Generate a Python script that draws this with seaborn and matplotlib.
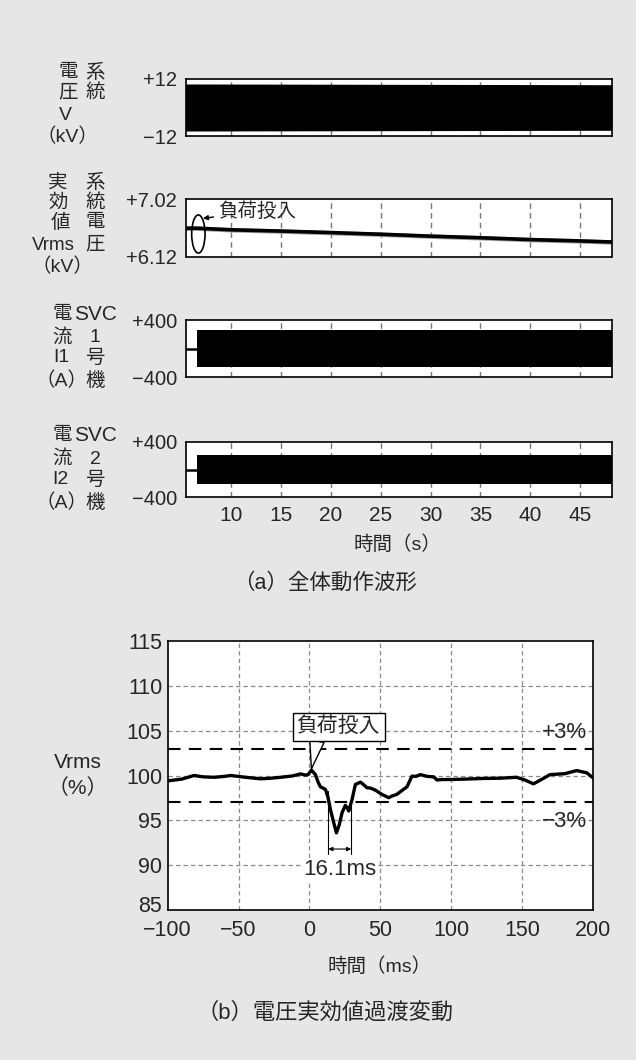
import numpy as np
import pandas as pd
import matplotlib
matplotlib.use("Agg")
import matplotlib.pyplot as plt
import matplotlib.transforms as mtransforms
import seaborn as sns
from matplotlib.patches import Ellipse

# ---------------- data ----------------
top_xticks = [10, 15, 20, 25, 30, 35, 40, 45]
top_xlim = (5.4, 48.2)
switch_t = 6.6

# (1) system voltage envelope (kV peak)
v_sys_t = [5.4, 6.6, 48.2]
v_sys_amp = [9.9, 9.9, 9.6]

# (2) system voltage rms (kV)
vrms_t = [5.4, 6.6, 10, 15, 20, 25, 30, 35, 40, 45, 48.2]
vrms_kv = [6.565, 6.565, 6.54, 6.52, 6.496, 6.47, 6.44, 6.415, 6.386, 6.365, 6.348]
vrms_noise = 0.035

# (3) SVC No.1 current envelope (A)
i1_t = [6.6, 48.2]
i1_amp = [256, 256]
# (4) SVC No.2 current envelope (A)
i2_t = [6.6, 48.2]
i2_amp = [204, 204]
pre_t = [5.4, 6.6]
pre_i = [0, 0]

# (b) Vrms transient (%)
b_ms = [-100, -90, -81.5, -75, -67.4, -60, -55.6, -45, -34.5, -27, -20.4, -12, -6.3, -3, -1,
        1.4, 4.2, 6, 7.7, 9.5, 11.3, 13, 14.8, 17, 19, 21, 23, 25.3, 26.5, 27.7, 30, 32.4,
        36, 38, 40.6, 43, 46.5, 51, 55.9, 58, 61.7, 65, 68.8, 72.3, 75, 78.2, 83, 87.6, 90,
        93.4, 99.3, 110, 123, 135, 146, 152, 158, 163, 169.7, 180, 188.5, 195.6, 200]
b_pct = [99.4, 99.6, 100.0, 99.85, 99.8, 99.9, 100.0, 99.8, 99.63, 99.7, 99.8, 99.95, 100.18, 100.05, 100.1,
         100.6, 100.1, 99.3, 98.74, 98.6, 98.44, 97.6, 96.2, 94.8, 93.6, 94.5, 95.85, 96.67, 96.4, 96.04, 97.3, 99.0,
         99.26, 99.0, 98.63, 98.6, 98.37, 97.9, 97.52, 97.7, 97.9, 98.3, 98.74, 99.93, 99.9, 100.1, 99.9, 99.85, 99.5,
         99.55, 99.55, 99.6, 99.67, 99.7, 99.8, 99.5, 99.07, 99.5, 100.1, 100.2, 100.55, 100.3, 99.74]
b_xticks = [-100, -50, 0, 50, 100, 150, 200]
b_yticks = [85, 90, 95, 100, 105, 110, 115]
limit_hi, limit_lo = 103, 97
dim_start, dim_end = 13.3, 29.4

# ---------------- style ----------------
sns.set_theme(style="white")
plt.rcParams["font.family"] = ["Liberation Sans", "Noto Sans CJK JP", "DejaVu Sans"]
BG = "#e6e6e6"
W, H = 636, 1060
fig = plt.figure(figsize=(W / 100, H / 100), dpi=100, facecolor=BG)


def frac_box(left, top, right, bottom):
    return [left / W, 1 - bottom / H, (right - left) / W, (bottom - top) / H]


def ftext(s, x, y, size=13, **kw):
    fig.text(x / W, 1 - y / H, s, ha="center", va="center", fontsize=size, **kw)


def style_top(ax, ylim, yticks, ylabels, show_x=False):
    ax.set_facecolor("white")
    ax.set_xlim(*top_xlim)
    ax.set_ylim(*ylim)
    ax.set_xticks(top_xticks)
    ax.set_yticks(yticks)
    ax.set_yticklabels(ylabels, fontsize=14.5)
    if show_x:
        ax.set_xticklabels([str(t) for t in top_xticks], fontsize=15)
    else:
        ax.set_xticklabels([])
    ax.tick_params(axis="both", length=0)
    ax.tick_params(axis="y", pad=6)
    ax.tick_params(axis="x", pad=6)
    for x in top_xticks:
        ax.axvline(x, color="#777777", lw=1.0, ls=(0, (4, 3)), zorder=0.5)
    for s in ax.spines.values():
        s.set_color("black")
        s.set_linewidth(1.2)
    ax.set_xlabel("")
    ax.set_ylabel("")


# Panel 1
ax1 = fig.add_axes(frac_box(185.5, 79, 612, 136))
ax1.fill_between(v_sys_t, [-a for a in v_sys_amp], v_sys_amp, color="black", lw=0, zorder=2)
style_top(ax1, (-12, 12), [12, -12], ["+12", "\u221212"])

# Panel 2
ax2 = fig.add_axes(frac_box(185.5, 199.3, 612, 256.5))
ax2.fill_between(vrms_t, [v - vrms_noise for v in vrms_kv], [v + vrms_noise for v in vrms_kv],
                 color="#a0a0a0", lw=0, zorder=1)
sns.lineplot(x=vrms_t, y=vrms_kv, ax=ax2, color="black", lw=2.6, zorder=2)
style_top(ax2, (6.12, 7.02), [7.02, 6.12], ["+7.02", "+6.12"])
ax2.add_patch(Ellipse((6.69, 6.474), 1.34, 0.60, fill=False, ec="black", lw=1.2, zorder=3, clip_on=False))
ax2.annotate("負荷投入", xy=(7.15, 6.72), xytext=(12.6, 6.83), fontsize=14, ha="center", va="center",
             arrowprops=dict(arrowstyle="-|>", color="black", lw=1.0, mutation_scale=7, shrinkA=1, shrinkB=0),
             annotation_clip=False, zorder=4)

# Panel 3
ax3 = fig.add_axes(frac_box(185.5, 320, 612, 377.3))
sns.lineplot(x=pre_t, y=pre_i, ax=ax3, color="black", lw=1.8, zorder=2)
ax3.fill_between(i1_t, [-a for a in i1_amp], i1_amp, color="black", lw=0, zorder=2)
style_top(ax3, (-400, 400), [400, -400], ["+400", "\u2212400"])

# Panel 4
ax4 = fig.add_axes(frac_box(185.5, 441.7, 612, 497.3))
sns.lineplot(x=pre_t, y=pre_i, ax=ax4, color="black", lw=1.8, zorder=2)
ax4.fill_between(i2_t, [-a for a in i2_amp], i2_amp, color="black", lw=0, zorder=2)
style_top(ax4, (-400, 400), [400, -400], ["+400", "\u2212400"], show_x=True)

# Top panel y-labels
C = 14  # CJK label size
for s, x, y, sz in [("電", 68, 73, C), ("系", 95, 73, C), ("圧", 68, 93, C), ("統", 95, 93, C),
                    ("V", 65, 115, 14), ("（kV）", 67, 137, 14)]:
    ftext(s, x, y, size=sz)
for s, x, y, sz in [("実", 58, 183, C), ("系", 95, 183, C), ("効", 58, 203, C), ("統", 95, 203, C),
                    ("値", 60, 223, C), ("電", 95, 223, C), ("Vrms", 53, 245, 13.5), ("圧", 95, 245, C),
                    ("（kV）", 62, 267, 14)]:
    ftext(s, x, y, size=sz)
for s, x, y, sz in [("電", 62, 314, C), ("SVC", 95, 314, 15), ("流", 62, 338, C), ("1", 95, 338, 14),
                    ("I1", 61, 358, 14), ("号", 95, 358, C), ("（A）", 61, 381, 14), ("機", 95, 381, C)]:
    ftext(s, x, y, size=sz)
for s, x, y, sz in [("電", 62, 435, C), ("SVC", 95, 435, 15), ("流", 62, 459, C), ("2", 95, 459, 14),
                    ("I2", 60, 480, 14), ("号", 95, 480, C), ("（A）", 61, 503, 14), ("機", 95, 503, C)]:
    ftext(s, x, y, size=sz)

ftext("時間（s）", 397, 545, size=14)
ftext("（a）全体動作波形", 325, 583, size=15.5)

# ---------------- (b) ----------------
axb = fig.add_axes(frac_box(167.7, 641, 593, 910))
axb.set_facecolor("white")
df_b = pd.DataFrame({"ms": b_ms, "pct": b_pct})
for x in b_xticks[1:-1]:
    axb.axvline(x, color="#8a8a8a", lw=0.9, ls=(0, (3.5, 2.5)), zorder=0.5)
for y in b_yticks[1:-1]:
    axb.axhline(y, color="#8a8a8a", lw=0.9, ls=(0, (3.5, 2.5)), zorder=0.5)
for y in (limit_hi, limit_lo):
    axb.axhline(y, color="black", lw=1.5, ls=(0, (6, 4)), zorder=1)
sns.lineplot(data=df_b, x="ms", y="pct", ax=axb, color="black", lw=2.4, zorder=3)
axb.set_xlim(-100, 200)
axb.set_ylim(85, 115)
axb.set_xticks(b_xticks)
axb.set_yticks(b_yticks)
axb.set_xticklabels(["\u2212100", "\u221250", "0", "50", "100", "150", "200"], fontsize=15.5)
axb.set_yticklabels([str(v) for v in b_yticks], fontsize=15.5)
axb.tick_params(axis="both", length=0)
axb.tick_params(axis="y", pad=4)
axb.tick_params(axis="x", pad=7)
axb.set_xlabel("")
axb.set_ylabel("")
for s in axb.spines.values():
    s.set_color("black")
    s.set_linewidth(1.2)
# lift the lowest y label a little so it sits just above "−100"
lbl85 = axb.get_yticklabels()[0]
lbl85.set_transform(lbl85.get_transform() + mtransforms.ScaledTranslation(0, 4 / 72, fig.dpi_scale_trans))

axb.annotate("負荷投入", xy=(1.4, 100.75), xytext=(20.6, 105.45), fontsize=15, ha="center", va="center",
             bbox=dict(boxstyle="square,pad=0.2", fc="white", ec="black", lw=1.0),
             arrowprops=dict(arrowstyle="wedge,tail_width=0.7", fc="white", ec="black", lw=1.0,
                             relpos=(0.25, 0.0), shrinkA=0, shrinkB=0),
             zorder=5)
axb.text(180, 104.8, "+3%", fontsize=16, ha="center", va="center", zorder=5)
axb.text(180, 94.9, "\u22123%", fontsize=16, ha="center", va="center", zorder=5)
axb.plot([dim_start, dim_start], [98.3, 91.2], color="black", lw=0.8, zorder=4)
axb.plot([dim_end, dim_end], [96.7, 91.2], color="black", lw=0.8, zorder=4)
axb.annotate("", xy=(dim_start, 91.8), xytext=(dim_end, 91.8),
             arrowprops=dict(arrowstyle="<|-|>", color="black", lw=0.8, mutation_scale=6, shrinkA=0, shrinkB=0),
             zorder=4)
axb.text((dim_start + dim_end) / 2, 89.55, "16.1ms", fontsize=16, ha="center", va="center", zorder=5,
         bbox=dict(boxstyle="square,pad=0.05", fc="white", ec="none"))

ftext("Vrms", 78, 763, size=15)
ftext("（%）", 78, 788, size=15)
ftext("時間（ms）", 380, 967, size=14)
ftext("（b）電圧実効値過渡変動", 325, 1013, size=16)

fig.savefig("out.png", dpi=100, facecolor=BG)
